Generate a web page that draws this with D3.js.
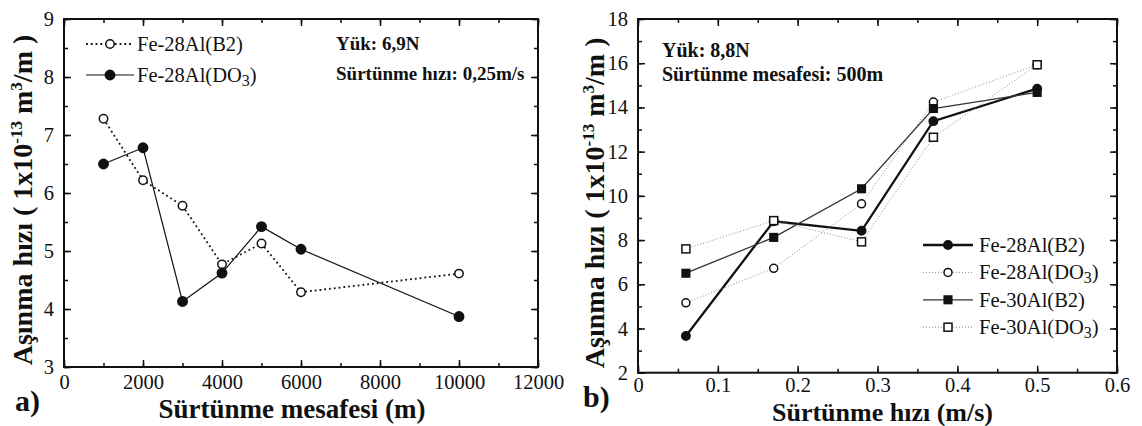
<!DOCTYPE html>
<html><head><meta charset="utf-8">
<script src="https://cdn.jsdelivr.net/npm/d3@7"></script>
<style>
  body { margin: 0; background: #fff; }
  svg { display: block; }
  text { font-family: "Liberation Serif", "DejaVu Serif", serif; fill: #111; }
</style>
</head><body>
<svg id="chart" width="1142" height="426"></svg>
<script>
// ---- Panel a: wear rate vs sliding distance ----
const distA = [1000, 2000, 3000, 4000, 5000, 6000, 10000];
const rateA_B2 = [7.28, 6.22, 5.78, 4.77, 5.13, 4.29, 4.61];
const rateA_DO3 = [6.50, 6.78, 4.13, 4.62, 5.42, 5.03, 3.87];
const ticksA_x = [0, 2000, 4000, 6000, 8000, 10000, 12000];
const ticksA_y = [3, 4, 5, 6, 7, 8, 9];

// ---- Panel b: wear rate vs sliding speed ----
const speedB = [0.06, 0.17, 0.28, 0.37, 0.5];
const rateB_28B2 = [3.66, 8.85, 8.42, 13.38, 14.85];
const rateB_28DO3 = [5.16, 6.72, 9.64, 14.24, 15.93];
const rateB_30B2 = [6.50, 8.12, 10.32, 13.95, 14.68];
const rateB_30DO3 = [7.60, 8.88, 7.92, 12.65, 15.93];
const ticksB_x = [0, 0.1, 0.2, 0.3, 0.4, 0.5, 0.6];
const ticksB_y = [2, 4, 6, 8, 10, 12, 14, 16, 18];

const svg = d3.select("#chart");
const INK = "#111";

function frame(o) {
  const g = svg.append("g");
  const x = d3.scaleLinear().domain(o.xDomain).range([o.left, o.right]);
  const y = d3.scaleLinear().domain(o.yDomain).range([o.bottom, o.top]);

  const styleAxis = sel => {
    sel.select(".domain").remove();
    sel.selectAll(".tick line").attr("stroke", INK).attr("stroke-width", 1.5);
    sel.selectAll(".tick text").attr("font-size", 20.5).attr("fill", INK)
       .attr("font-family", "Liberation Serif");
  };

  const minorX = d3.range(o.xDomain[0], o.xDomain[1] + o.xMinor / 2, o.xMinor);
  const minorY = d3.range(o.yDomain[0], o.yDomain[1] + o.yMinor / 2, o.yMinor);

  // bottom / left axes with labels, ticks pointing inward
  g.append("g").attr("transform", `translate(0,${o.bottom})`)
    .call(d3.axisBottom(x).tickValues(o.xTicks).tickSize(-7).tickPadding(o.xPad).tickFormat(o.xFormat))
    .call(styleAxis);
  g.append("g").attr("transform", `translate(${o.left},0)`)
    .call(d3.axisLeft(y).tickValues(o.yTicks).tickSize(-7).tickPadding(10).tickFormat(d3.format("d")))
    .call(styleAxis);
  // mirrored ticks on top / right
  g.append("g").attr("transform", `translate(0,${o.top})`)
    .call(d3.axisTop(x).tickValues(o.xTicks).tickSize(-7).tickFormat(""))
    .call(styleAxis);
  g.append("g").attr("transform", `translate(${o.right},0)`)
    .call(d3.axisRight(y).tickValues(o.yTicks).tickSize(-7).tickFormat(""))
    .call(styleAxis);
  // minor ticks on all four sides
  [["axisBottom", o.bottom], ["axisTop", o.top]].forEach(([fn, pos]) => {
    g.append("g").attr("transform", `translate(0,${pos})`)
      .call(d3[fn](x).tickValues(minorX).tickSize(-4).tickFormat("")).call(styleAxis);
  });
  [["axisLeft", o.left], ["axisRight", o.right]].forEach(([fn, pos]) => {
    g.append("g").attr("transform", `translate(${pos},0)`)
      .call(d3[fn](y).tickValues(minorY).tickSize(-4).tickFormat("")).call(styleAxis);
  });

  // plot frame
  g.append("rect").attr("x", o.left).attr("y", o.top)
    .attr("width", o.right - o.left).attr("height", o.bottom - o.top)
    .attr("fill", "none").attr("stroke", INK).attr("stroke-width", 2);

  // x title
  g.append("text").attr("x", (o.left + o.right) / 2 + o.xTitleShift).attr("y", o.xTitleY)
    .attr("text-anchor", "middle").attr("font-size", o.xTitleSize).attr("font-weight", "bold")
    .text(o.xTitle);

  // y title with superscripts
  const yt = g.append("text")
    .attr("transform", `translate(${o.yTitleX},${(o.top + o.bottom) / 2 + 7}) rotate(-90)`)
    .attr("text-anchor", "middle").attr("font-size", 28).attr("font-weight", "bold");
  yt.append("tspan").text("Aşınma hızı ( 1x10");
  yt.append("tspan").attr("dy", -10).attr("font-size", 17).text("-13");
  yt.append("tspan").attr("dy", 10).text(" m");
  yt.append("tspan").attr("dy", -10).attr("font-size", 17).text("3");
  yt.append("tspan").attr("dy", 10).text("/m )");

  // panel letter
  g.append("text").attr("x", o.letterX).attr("y", o.letterY)
    .attr("font-size", 30).attr("font-weight", "bold").text(o.letter);

  // test conditions
  o.notes.forEach((t, i) => {
    g.append("text").attr("x", o.noteX).attr("y", o.noteY + i * o.noteGap)
      .attr("font-size", o.noteSize).attr("font-weight", "bold").text(t);
  });

  return { g, x, y };
}

function drawMarker(g, shape, filled, cx, cy, size) {
  if (shape === "circle") {
    g.append("circle").attr("cx", cx).attr("cy", cy).attr("r", size)
      .attr("fill", filled ? INK : "#fff").attr("stroke", INK).attr("stroke-width", 1.5);
  } else {
    g.append("rect").attr("x", cx - size).attr("y", cy - size)
      .attr("width", size * 2).attr("height", size * 2)
      .attr("fill", filled ? INK : "#fff").attr("stroke", INK).attr("stroke-width", 1.5);
  }
}

function series(p, xs, ys, st) {
  const line = d3.line().x((d, i) => p.x(xs[i])).y(d => p.y(d));
  p.g.append("path").datum(ys).attr("d", line).attr("fill", "none")
    .attr("stroke", st.color).attr("stroke-width", st.width)
    .attr("stroke-dasharray", st.dash || null);
  ys.forEach((v, i) => drawMarker(p.g, st.shape, st.filled, p.x(xs[i]), p.y(v), st.size));
}

function legend(p, items, x0, y0, gap, lineLen, textX, fs) {
  items.forEach((it, i) => {
    const yy = y0 + i * gap;
    p.g.append("line").attr("x1", x0).attr("x2", x0 + lineLen).attr("y1", yy).attr("y2", yy)
      .attr("stroke", it.st.color).attr("stroke-width", it.st.width)
      .attr("stroke-dasharray", it.st.dash || null);
    drawMarker(p.g, it.st.shape, it.st.filled, x0 + lineLen / 2, yy, it.st.size);
    const t = p.g.append("text").attr("x", textX).attr("y", yy + 7).attr("font-size", fs);
    t.append("tspan").text(it.label);
    if (it.sub) {
      t.append("tspan").attr("dy", 4).attr("font-size", fs * 0.78).text(it.sub);
      t.append("tspan").attr("dy", -4).text(")");
    }
  });
}

// ---------- Panel a ----------
const pa = frame({
  left: 64, right: 538, top: 19, bottom: 367,
  xDomain: [0, 12000], yDomain: [3, 9],
  xTicks: ticksA_x, yTicks: ticksA_y, xMinor: 1000, yMinor: 0.5, xPad: 7,
  xFormat: d3.format("d"),
  xTitle: "Sürtünme mesafesi (m)", xTitleY: 418, xTitleShift: -9, xTitleSize: 27,
  yTitleX: 32,
  letter: "a)", letterX: 15, letterY: 411,
  notes: ["Yük: 6,9N", "Sürtünme hızı: 0,25m/s"], noteX: 336, noteY: 50, noteGap: 30, noteSize: 19
});
const stA_B2 = { shape: "circle", filled: false, size: 4.2, color: INK, width: 1.8, dash: "1.8,3" };
const stA_DO3 = { shape: "circle", filled: true, size: 4.7, color: INK, width: 1.2 };
series(pa, distA, rateA_B2, stA_B2);
series(pa, distA, rateA_DO3, stA_DO3);
legend(pa, [
  { label: "Fe-28Al(B2)", st: stA_B2 },
  { label: "Fe-28Al(DO", sub: "3", st: stA_DO3 }
], 86, 44, 31, 48, 137, 20.5);

// ---------- Panel b ----------
const pb = frame({
  left: 638, right: 1117, top: 19, bottom: 372.7,
  xDomain: [0, 0.6], yDomain: [2, 18],
  xTicks: ticksB_x, yTicks: ticksB_y, xMinor: 0.05, yMinor: 1, xPad: 5,
  xFormat: d => d === 0 ? "0" : d3.format(".1f")(d),
  xTitle: "Sürtünme hızı (m/s)", xTitleY: 421, xTitleShift: 5, xTitleSize: 26,
  yTitleX: 604,
  letter: "b)", letterX: 583, letterY: 407,
  notes: ["Yük: 8,8N", "Sürtünme mesafesi: 500m"], noteX: 662, noteY: 57, noteGap: 24, noteSize: 20
});
const stB_28B2 = { shape: "circle", filled: true, size: 4.2, color: INK, width: 2.3 };
const stB_28DO3 = { shape: "circle", filled: false, size: 4, color: "#8a8a8a", width: 1, dash: "1,2" };
const stB_30B2 = { shape: "square", filled: true, size: 3.8, color: "#333", width: 1.3 };
const stB_30DO3 = { shape: "square", filled: false, size: 4, color: "#8a8a8a", width: 1, dash: "1,2" };
series(pb, speedB, rateB_28B2, stB_28B2);
series(pb, speedB, rateB_28DO3, stB_28DO3);
series(pb, speedB, rateB_30B2, stB_30B2);
series(pb, speedB, rateB_30DO3, stB_30DO3);
legend(pb, [
  { label: "Fe-28Al(B2)", st: stB_28B2 },
  { label: "Fe-28Al(DO", sub: "3", st: stB_28DO3 },
  { label: "Fe-30Al(B2)", st: stB_30B2 },
  { label: "Fe-30Al(DO", sub: "3", st: stB_30DO3 }
], 923, 245, 27.4, 50, 979, 20.5);
</script>
</body></html>
